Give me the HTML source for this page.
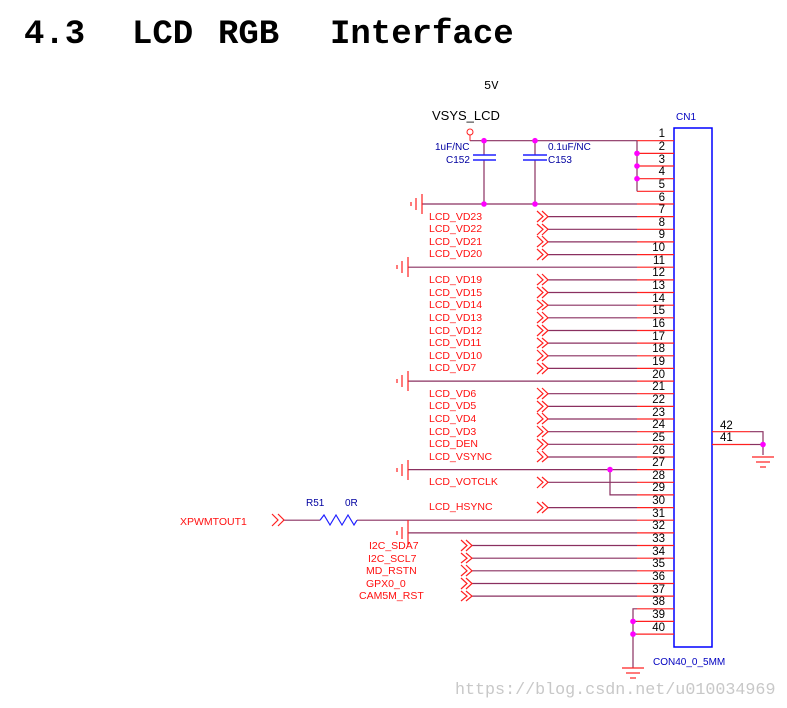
<!DOCTYPE html><html><head><meta charset="utf-8"><style>body{margin:0;background:#fff}svg{display:block}</style></head><body>
<svg width="787" height="708" viewBox="0 0 787 708" xmlns="http://www.w3.org/2000/svg" font-family="Liberation Sans, sans-serif">
<text x="24" y="43" font-family="Liberation Mono, monospace" font-weight="bold" font-size="34">4.3</text>
<text x="132" y="43" font-family="Liberation Mono, monospace" font-weight="bold" font-size="34">LCD</text>
<text x="218" y="43" font-family="Liberation Mono, monospace" font-weight="bold" font-size="34">RGB</text>
<text x="330" y="43" font-family="Liberation Mono, monospace" font-weight="bold" font-size="34">Interface</text>
<text x="484" y="89" font-family="Liberation Mono, monospace" font-size="12">5V</text>
<text x="432" y="120" font-size="13">VSYS_LCD</text>
<text x="676" y="120" font-size="10" fill="#0000c0">CN1</text>
<text x="653" y="665" font-size="10" fill="#0000c0">CON40_0_5MM</text>
<rect x="674" y="128" width="38" height="519" fill="none" stroke="#0000ff" stroke-width="1.5"/>
<g stroke="#ff2020" stroke-width="1.2">
<line x1="637" y1="140.7" x2="674" y2="140.7"/><line x1="637" y1="153.4" x2="674" y2="153.4"/><line x1="637" y1="166" x2="674" y2="166"/><line x1="637" y1="178.7" x2="674" y2="178.7"/><line x1="637" y1="191.3" x2="674" y2="191.3"/><line x1="637" y1="204" x2="674" y2="204"/><line x1="637" y1="216.6" x2="674" y2="216.6"/><line x1="637" y1="229.3" x2="674" y2="229.3"/><line x1="637" y1="241.9" x2="674" y2="241.9"/><line x1="637" y1="254.6" x2="674" y2="254.6"/><line x1="637" y1="267.2" x2="674" y2="267.2"/><line x1="637" y1="279.9" x2="674" y2="279.9"/><line x1="637" y1="292.5" x2="674" y2="292.5"/><line x1="637" y1="305.2" x2="674" y2="305.2"/><line x1="637" y1="317.8" x2="674" y2="317.8"/><line x1="637" y1="330.5" x2="674" y2="330.5"/><line x1="637" y1="343.1" x2="674" y2="343.1"/><line x1="637" y1="355.8" x2="674" y2="355.8"/><line x1="637" y1="368.4" x2="674" y2="368.4"/><line x1="637" y1="381.1" x2="674" y2="381.1"/><line x1="637" y1="393.7" x2="674" y2="393.7"/><line x1="637" y1="406.4" x2="674" y2="406.4"/><line x1="637" y1="419" x2="674" y2="419"/><line x1="637" y1="431.7" x2="674" y2="431.7"/><line x1="637" y1="444.3" x2="674" y2="444.3"/><line x1="637" y1="457" x2="674" y2="457"/><line x1="637" y1="469.6" x2="674" y2="469.6"/><line x1="637" y1="482.3" x2="674" y2="482.3"/><line x1="637" y1="494.9" x2="674" y2="494.9"/><line x1="637" y1="507.6" x2="674" y2="507.6"/><line x1="637" y1="520.2" x2="674" y2="520.2"/><line x1="637" y1="532.9" x2="674" y2="532.9"/><line x1="637" y1="545.5" x2="674" y2="545.5"/><line x1="637" y1="558.2" x2="674" y2="558.2"/><line x1="637" y1="570.8" x2="674" y2="570.8"/><line x1="637" y1="583.5" x2="674" y2="583.5"/><line x1="637" y1="596.1" x2="674" y2="596.1"/><line x1="637" y1="608.8" x2="674" y2="608.8"/><line x1="637" y1="621.4" x2="674" y2="621.4"/><line x1="637" y1="634.1" x2="674" y2="634.1"/>
<line x1="712" y1="431.7" x2="750" y2="431.7"/><line x1="712" y1="444.5" x2="750" y2="444.5"/>
</g>
<g font-size="11.5" text-anchor="end">
<text x="665" y="137">1</text><text x="665" y="150">2</text><text x="665" y="163">3</text><text x="665" y="175">4</text><text x="665" y="188">5</text><text x="665" y="201">6</text><text x="665" y="213">7</text><text x="665" y="226">8</text><text x="665" y="238">9</text><text x="665" y="251">10</text><text x="665" y="264">11</text><text x="665" y="276">12</text><text x="665" y="289">13</text><text x="665" y="302">14</text><text x="665" y="314">15</text><text x="665" y="327">16</text><text x="665" y="340">17</text><text x="665" y="352">18</text><text x="665" y="365">19</text><text x="665" y="378">20</text><text x="665" y="390">21</text><text x="665" y="403">22</text><text x="665" y="416">23</text><text x="665" y="428">24</text><text x="665" y="441">25</text><text x="665" y="454">26</text><text x="665" y="466">27</text><text x="665" y="479">28</text><text x="665" y="491">29</text><text x="665" y="504">30</text><text x="665" y="517">31</text><text x="665" y="529">32</text><text x="665" y="542">33</text><text x="665" y="555">34</text><text x="665" y="567">35</text><text x="665" y="580">36</text><text x="665" y="593">37</text><text x="665" y="605">38</text><text x="665" y="618">39</text><text x="665" y="631">40</text>
</g>
<text x="720" y="429" font-size="11.5">42</text><text x="720" y="441" font-size="11.5">41</text>
<g stroke="#8a3060" stroke-width="1.2" fill="none">
<polyline points="470,140.7 637,140.7"/><polyline points="637,140.7 637,191.3"/>
<line x1="422" y1="204" x2="637" y2="204"/>
<line x1="484" y1="140.7" x2="484" y2="155"/><line x1="484" y1="160" x2="484" y2="204"/>
<line x1="535" y1="140.7" x2="535" y2="155"/><line x1="535" y1="160" x2="535" y2="204"/>
<line x1="408" y1="267.2" x2="637" y2="267.2"/><line x1="408" y1="381.1" x2="637" y2="381.1"/><line x1="408" y1="469.6" x2="637" y2="469.6"/>
<polyline points="610,469.6 610,494.9 637,494.9"/>
<line x1="283" y1="520.2" x2="320" y2="520.2"/><line x1="357" y1="520.2" x2="637" y2="520.2"/>
<line x1="408" y1="532.9" x2="637" y2="532.9"/>
<line x1="548" y1="216.6" x2="637" y2="216.6"/><line x1="548" y1="229.3" x2="637" y2="229.3"/><line x1="548" y1="241.9" x2="637" y2="241.9"/><line x1="548" y1="254.6" x2="637" y2="254.6"/>
<line x1="548" y1="279.9" x2="637" y2="279.9"/><line x1="548" y1="292.5" x2="637" y2="292.5"/><line x1="548" y1="305.2" x2="637" y2="305.2"/><line x1="548" y1="317.8" x2="637" y2="317.8"/><line x1="548" y1="330.5" x2="637" y2="330.5"/><line x1="548" y1="343.1" x2="637" y2="343.1"/><line x1="548" y1="355.8" x2="637" y2="355.8"/><line x1="548" y1="368.4" x2="637" y2="368.4"/>
<line x1="548" y1="393.7" x2="637" y2="393.7"/><line x1="548" y1="406.4" x2="637" y2="406.4"/><line x1="548" y1="419" x2="637" y2="419"/><line x1="548" y1="431.7" x2="637" y2="431.7"/><line x1="548" y1="444.3" x2="637" y2="444.3"/><line x1="548" y1="457" x2="637" y2="457"/>
<line x1="548" y1="482.3" x2="637" y2="482.3"/><line x1="548" y1="507.6" x2="637" y2="507.6"/>
<line x1="472" y1="545.5" x2="637" y2="545.5"/><line x1="472" y1="558.2" x2="637" y2="558.2"/><line x1="472" y1="570.8" x2="637" y2="570.8"/><line x1="472" y1="583.5" x2="637" y2="583.5"/><line x1="472" y1="596.1" x2="637" y2="596.1"/>
<polyline points="637,608.8 633,608.8 633,668"/><line x1="633" y1="621.4" x2="637" y2="621.4"/><line x1="633" y1="634.1" x2="637" y2="634.1"/>
<polyline points="750,431.7 763,431.7 763,455"/><line x1="750" y1="444.5" x2="763" y2="444.5"/>
</g>
<circle cx="470" cy="132" r="3" fill="none" stroke="#ff2020"/><line x1="470" y1="135" x2="470" y2="140.7" stroke="#ff2020"/>
<g stroke="#2020ff" stroke-width="1.5"><line x1="473" y1="155" x2="496" y2="155"/><line x1="473" y1="160" x2="496" y2="160"/><line x1="523" y1="155" x2="547" y2="155"/><line x1="523" y1="160" x2="547" y2="160"/></g>
<text x="435" y="150" font-size="10" fill="#0000a0">1uF/NC</text><text x="446" y="163" font-size="10" fill="#0000a0">C152</text>
<text x="548" y="150" font-size="10" fill="#0000a0">0.1uF/NC</text><text x="548" y="163" font-size="10" fill="#0000a0">C153</text>
<text x="306" y="506" font-size="10" fill="#0000a0">R51</text><text x="345" y="506" font-size="10" fill="#0000a0">0R</text>
<polyline points="320,520.2 324,515 330,525 336,515 342,525 348,515 354,525 357,520.2" fill="none" stroke="#2020ff" stroke-width="1.2"/>
<g stroke="#ff2020" stroke-width="1.2" fill="none">
<line x1="422" y1="194" x2="422" y2="214"/><line x1="416" y1="198" x2="416" y2="210"/><line x1="411" y1="202" x2="411" y2="206"/>
<line x1="408" y1="257" x2="408" y2="277"/><line x1="402" y1="261" x2="402" y2="273"/><line x1="397" y1="265" x2="397" y2="269"/>
<line x1="408" y1="371" x2="408" y2="391"/><line x1="402" y1="375" x2="402" y2="387"/><line x1="397" y1="379" x2="397" y2="383"/>
<line x1="408" y1="460" x2="408" y2="480"/><line x1="402" y1="464" x2="402" y2="476"/><line x1="397" y1="468" x2="397" y2="472"/>
<line x1="408" y1="520" x2="408" y2="545"/><line x1="402" y1="527" x2="402" y2="539"/><line x1="397" y1="531" x2="397" y2="535"/>
<line x1="622" y1="668" x2="644" y2="668"/><line x1="626" y1="673" x2="640" y2="673"/><line x1="630" y1="678" x2="636" y2="678"/>
<line x1="752" y1="457" x2="774" y2="457"/><line x1="756" y1="462" x2="770" y2="462"/><line x1="760" y1="467" x2="766" y2="467"/>
<path d="M272,514 278,520 272,526 M278,514 284,520 278,526"/>
<path d="M537,211 543,216.6 537,222 M542,211 548,216.6 542,222 M537,224 543,229.3 537,235 M542,224 548,229.3 542,235 M537,236 543,241.9 537,247 M542,236 548,241.9 542,247 M537,249 543,254.6 537,260 M542,249 548,254.6 542,260"/>
<path d="M537,274 543,279.9 537,285 M542,274 548,279.9 542,285 M537,287 543,292.5 537,298 M542,287 548,292.5 542,298 M537,300 543,305.2 537,310 M542,300 548,305.2 542,310 M537,312 543,317.8 537,323 M542,312 548,317.8 542,323 M537,325 543,330.5 537,336 M542,325 548,330.5 542,336 M537,338 543,343.1 537,348 M542,338 548,343.1 542,348 M537,350 543,355.8 537,361 M542,350 548,355.8 542,361 M537,363 543,368.4 537,374 M542,363 548,368.4 542,374"/>
<path d="M537,388 543,393.7 537,399 M542,388 548,393.7 542,399 M537,401 543,406.4 537,412 M542,401 548,406.4 542,412 M537,413 543,419 537,424 M542,413 548,419 542,424 M537,426 543,431.7 537,437 M542,426 548,431.7 542,437 M537,439 543,444.3 537,450 M542,439 548,444.3 542,450 M537,451 543,457 537,462 M542,451 548,457 542,462"/>
<path d="M537,477 543,482.3 537,488 M542,477 548,482.3 542,488 M537,502 543,507.6 537,513 M542,502 548,507.6 542,513"/>
<path d="M461,540 467,545.5 461,551 M466,540 472,545.5 466,551 M461,553 467,558.2 461,563 M466,553 472,558.2 466,563 M461,565 467,570.8 461,576 M466,565 472,570.8 466,576 M461,578 467,583.5 461,589 M466,578 472,583.5 466,589 M461,591 467,596.1 461,601 M466,591 472,596.1 466,601"/>
</g>
<g fill="#ff00ff">
<circle cx="484" cy="140.7" r="2.8"/><circle cx="535" cy="140.7" r="2.8"/><circle cx="484" cy="204" r="2.8"/><circle cx="535" cy="204" r="2.8"/>
<circle cx="637" cy="153.4" r="2.8"/><circle cx="637" cy="166" r="2.8"/><circle cx="637" cy="178.7" r="2.8"/>
<circle cx="610" cy="469.6" r="2.8"/><circle cx="633" cy="621.4" r="2.8"/><circle cx="633" cy="634.1" r="2.8"/><circle cx="763" cy="444.5" r="2.8"/>
</g>
<g font-size="10.5" fill="#ff1010">
<text x="429" y="220">LCD_VD23</text><text x="429" y="232">LCD_VD22</text><text x="429" y="245">LCD_VD21</text><text x="429" y="257">LCD_VD20</text>
<text x="429" y="283">LCD_VD19</text><text x="429" y="296">LCD_VD15</text><text x="429" y="308">LCD_VD14</text><text x="429" y="321">LCD_VD13</text><text x="429" y="334">LCD_VD12</text><text x="429" y="346">LCD_VD11</text><text x="429" y="359">LCD_VD10</text><text x="429" y="371">LCD_VD7</text>
<text x="429" y="397">LCD_VD6</text><text x="429" y="409">LCD_VD5</text><text x="429" y="422">LCD_VD4</text><text x="429" y="435">LCD_VD3</text><text x="429" y="447">LCD_DEN</text><text x="429" y="460">LCD_VSYNC</text>
<text x="429" y="485">LCD_VOTCLK</text><text x="429" y="510">LCD_HSYNC</text>
<text x="180" y="525">XPWMTOUT1</text>
<text x="369" y="549">I2C_SDA7</text><text x="368" y="562">I2C_SCL7</text><text x="366" y="574">MD_RSTN</text><text x="366" y="587">GPX0_0</text><text x="359" y="599">CAM5M_RST</text>
</g>
<text x="455" y="694" font-family="Liberation Mono, monospace" font-size="16.7" fill="#c8c8c8">https://blog.csdn.net/u010034969</text>
</svg></body></html>
